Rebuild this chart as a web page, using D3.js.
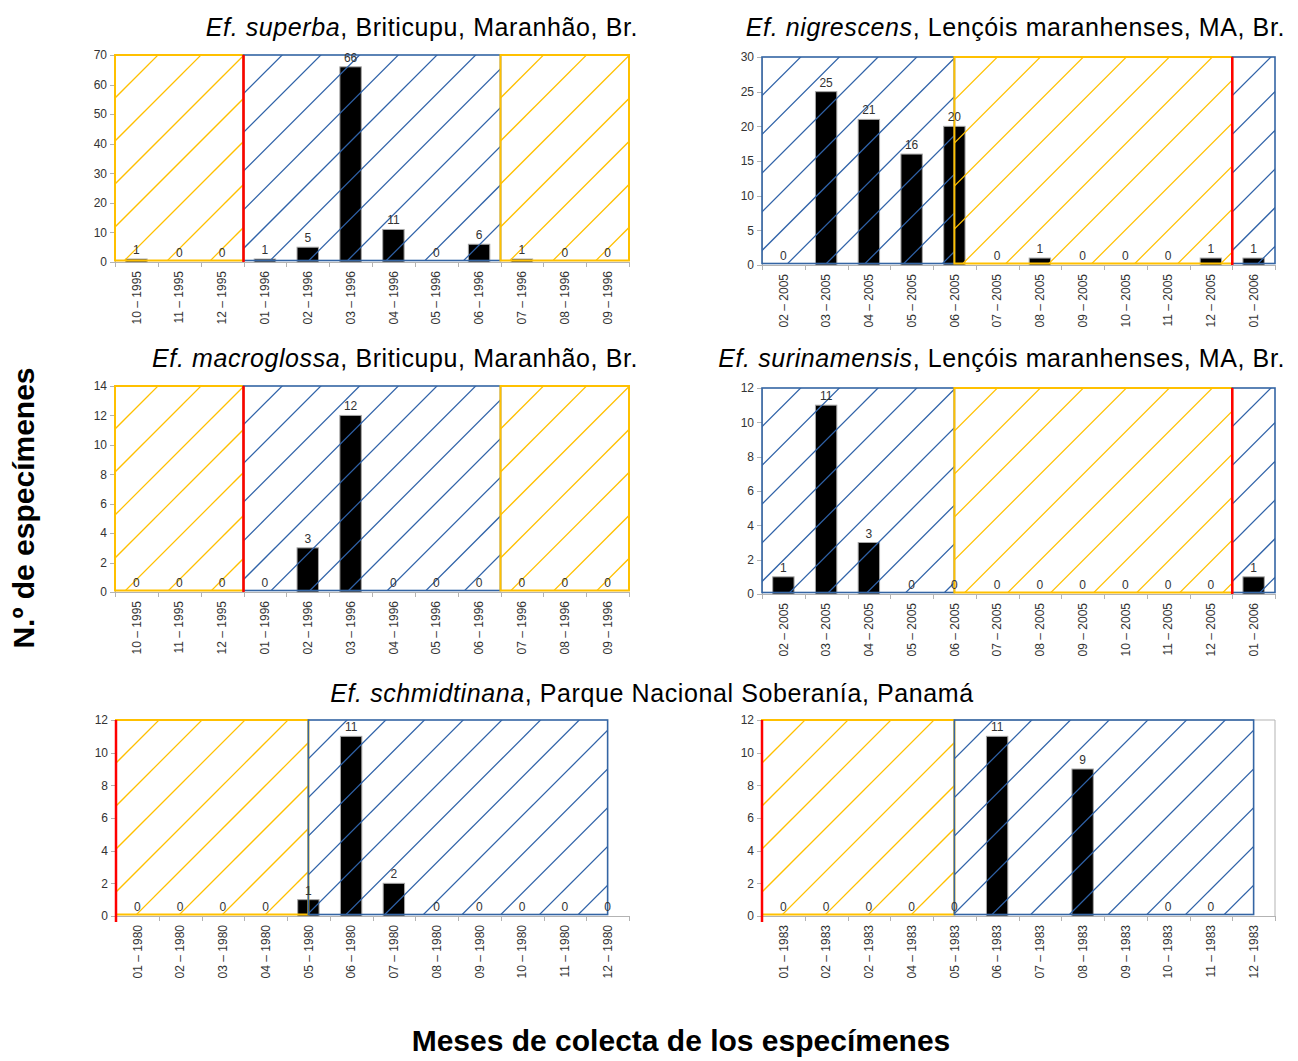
<!DOCTYPE html>
<html>
<head>
<meta charset="utf-8">
<script src="https://cdn.jsdelivr.net/npm/d3@7"></script>
<style>
  body { margin: 0; background: #fff; }
  svg { display: block; font-family: "Liberation Sans", Arial, sans-serif; }
  .axis path, .axis line { stroke: #b3b3b3; shape-rendering: crispEdges; }
  .axis text { fill: #333; font-size: 12px; font-family: "Liberation Sans", Arial, sans-serif; }
  .vlabel { fill: #333; font-size: 12px; text-anchor: middle; }
</style>
</head>
<body>
<svg id="chart" width="1298" height="1061"></svg>
<script>
const WIDTH = 1298,
      HEIGHT = 1061,
      YELLOW = "#ffc000",
      BLUE = "#3465a4",
      RED = "#ff0000",
      HATCH = {dry: {color: "#ffc000", step: 43}, wet: {color: "#2f62a8", step: 38.7}};

// month labels (categories)
const months9596 = ["10 – 1995", "11 – 1995", "12 – 1995", "01 – 1996", "02 – 1996", "03 – 1996",
                    "04 – 1996", "05 – 1996", "06 – 1996", "07 – 1996", "08 – 1996", "09 – 1996"];
const months0506 = ["02 – 2005", "03 – 2005", "04 – 2005", "05 – 2005", "06 – 2005", "07 – 2005",
                    "08 – 2005", "09 – 2005", "10 – 2005", "11 – 2005", "12 – 2005", "01 – 2006"];
const months1980 = ["01 – 1980", "02 – 1980", "03 – 1980", "04 – 1980", "05 – 1980", "06 – 1980",
                    "07 – 1980", "08 – 1980", "09 – 1980", "10 – 1980", "11 – 1980", "12 – 1980"];
const months1983 = ["01 – 1983", "02 – 1983", "02 – 1983", "04 – 1983", "05 – 1983", "06 – 1983",
                    "07 – 1983", "08 – 1983", "09 – 1983", "10 – 1983", "11 – 1983", "12 – 1983"];

// specimens per month
const superba      = [1, 0, 0, 1, 5, 66, 11, 0, 6, 1, 0, 0];
const nigrescens   = [0, 25, 21, 16, 20, 0, 1, 0, 0, 0, 1, 1];
const macroglossa  = [0, 0, 0, 0, 3, 12, 0, 0, 0, 0, 0, 0];
const surinamensis = [1, 11, 3, 0, 0, 0, 0, 0, 0, 0, 0, 1];
const schmidt1980  = [0, 0, 0, 0, 1, 11, 2, 0, 0, 0, 0, 0];
const schmidt1983  = [0, 0, 0, 0, 0, 11, null, 9, null, 0, 0, null];

// seasons, in month units (dry = yellow, wet = blue)
const seasonsMaranhao = [{from: 0, to: 3, kind: "dry"}, {from: 3, to: 9, kind: "wet"}, {from: 9, to: 12, kind: "dry"}];
const seasonsLencois  = [{from: 0, to: 4.5, kind: "wet"}, {from: 4.5, to: 11, kind: "dry"}, {from: 11, to: 12, kind: "wet"}];
const seasonsPanama   = [{from: 0, to: 4.5, kind: "dry"}, {from: 4.5, to: 11.5, kind: "wet"}];

const panels = [
  {cats: months9596, values: superba, yMax: 70, yStep: 10, seasons: seasonsMaranhao, red: 3,
   x0: 115, x1: 629, yTop: 55, yBot: 262},
  {cats: months0506, values: nigrescens, yMax: 30, yStep: 5, seasons: seasonsLencois, red: 11,
   x0: 762, x1: 1275, yTop: 57, yBot: 265},
  {cats: months9596, values: macroglossa, yMax: 14, yStep: 2, seasons: seasonsMaranhao, red: 3,
   x0: 115, x1: 629, yTop: 386, yBot: 592},
  {cats: months0506, values: surinamensis, yMax: 12, yStep: 2, seasons: seasonsLencois, red: 11,
   x0: 762, x1: 1275, yTop: 388, yBot: 594},
  {cats: months1980, values: schmidt1980, yMax: 12, yStep: 2, seasons: seasonsPanama, red: 0,
   x0: 116, x1: 629, yTop: 720, yBot: 916},
  {cats: months1983, values: schmidt1983, yMax: 12, yStep: 2, seasons: seasonsPanama, red: 0,
   x0: 762, x1: 1275, yTop: 720, yBot: 916, frame: true}
];

const titles = [
  {italic: "Ef. superba", rest: ", Briticupu, Maranhão, Br.", x: 638, y: 36, anchor: "end"},
  {italic: "Ef. nigrescens", rest: ", Lençóis maranhenses, MA, Br.", x: 1285, y: 36, anchor: "end"},
  {italic: "Ef. macroglossa", rest: ", Briticupu, Maranhão, Br.", x: 638, y: 367, anchor: "end"},
  {italic: "Ef. surinamensis", rest: ", Lençóis maranhenses, MA, Br.", x: 1285, y: 367, anchor: "end"},
  {italic: "Ef. schmidtinana", rest: ", Parque Nacional Soberanía, Panamá", x: 652, y: 702, anchor: "middle"}
];

const svg = d3.select("#chart");
let defs = svg.append("defs"),
    clipCount = 0;

// "/" hatch lines clipped to a box, anchored on the box corner
function hatch(g, x, y, w, h, kind) {
  let id = "clip" + (clipCount++),
      step = HATCH[kind].step;

  defs.append("clipPath").attr("id", id)
    .append("rect").attr("x", x).attr("y", y).attr("width", w).attr("height", h);

  let cs = d3.range(x + y + step, x + w + y + h, step);

  g.append("g")
    .attr("class", "hatch")
    .attr("clip-path", "url(#" + id + ")")
    .selectAll("line")
    .data(cs)
    .enter().append("line")
    .attr("x1", c => c - (y + h) - 2).attr("y1", y + h + 2)
    .attr("x2", c => c - y + 2).attr("y2", y - 2)
    .attr("stroke", HATCH[kind].color)
    .attr("stroke-width", 1.25);
}

panels.forEach(p => {
  let n = p.cats.length,
      g = svg.append("g");

  let band = d3.scaleBand().domain(d3.range(n)).range([p.x0, p.x1]).paddingInner(0.5).paddingOuter(0.25),
      xu = d3.scaleLinear().domain([0, n]).range([p.x0, p.x1]),
      y = d3.scaleLinear().domain([0, p.yMax]).range([p.yBot, p.yTop]);

  if (p.frame) {
    g.append("path")
      .attr("d", "M" + p.x0 + "," + p.yTop + "H" + p.x1 + "V" + p.yBot)
      .attr("fill", "none")
      .attr("stroke", "#b3b3b3");
  }

  // y axis
  g.append("g")
    .attr("class", "axis")
    .attr("transform", "translate(" + p.x0 + ",0)")
    .call(d3.axisLeft(y).tickValues(d3.range(0, p.yMax + 1, p.yStep)).tickSize(5).tickSizeOuter(0).tickPadding(3));

  // x axis: ticks on month boundaries, labels rotated at month centres
  let xa = g.append("g")
    .attr("class", "axis")
    .attr("transform", "translate(0," + p.yBot + ")")
    .call(d3.axisBottom(xu).tickValues(d3.range(0, n + 1)).tickFormat("").tickSize(5).tickSizeOuter(0));

  xa.selectAll("text.mlabel")
    .data(p.cats)
    .enter().append("text")
    .attr("class", "mlabel")
    .attr("transform", (d, i) => "translate(" + (band(i) + band.bandwidth() / 2) + ",9) rotate(-90)")
    .attr("dy", "0.35em")
    .attr("text-anchor", "end")
    .text(d => d);

  let data = p.values.map((v, i) => ({i: i, v: v})).filter(d => d.v !== null);

  // bars
  g.selectAll("rect.bar")
    .data(data.filter(d => d.v > 0))
    .enter().append("rect")
    .attr("class", "bar")
    .attr("x", d => band(d.i))
    .attr("width", band.bandwidth())
    .attr("y", d => y(d.v))
    .attr("height", d => y(0) - y(d.v))
    .attr("fill", "#000")
    .attr("stroke", "#a6a6a6")
    .attr("stroke-width", 1);

  // season boxes drawn over the bars
  p.seasons.forEach(s => {
    let bx = xu(s.from),
        by = y(p.yMax),
        bw = xu(s.to) - xu(s.from),
        bh = y(0) - y(p.yMax) - 1.5;

    hatch(g, bx, by, bw, bh, s.kind);

    g.append("rect")
      .attr("x", bx).attr("y", by)
      .attr("width", bw).attr("height", bh)
      .attr("fill", "none")
      .attr("stroke", s.kind == "dry" ? YELLOW : BLUE)
      .attr("stroke-width", s.kind == "dry" ? 2 : 1.6);
  });

  // start of the year
  g.append("line")
    .attr("x1", xu(p.red)).attr("x2", xu(p.red))
    .attr("y1", y(p.yMax)).attr("y2", y(0) + (p.red == 0 ? 6 : 0))
    .attr("stroke", RED)
    .attr("stroke-width", 2.5);

  // value labels
  g.selectAll("text.vlabel")
    .data(data)
    .enter().append("text")
    .attr("class", "vlabel")
    .attr("x", d => band(d.i) + band.bandwidth() / 2)
    .attr("y", d => y(d.v) - 5)
    .text(d => d.v);
});

// panel titles
titles.forEach(t => {
  let txt = svg.append("text")
    .attr("x", t.x)
    .attr("y", t.y)
    .attr("text-anchor", t.anchor)
    .attr("font-size", 25)
    .attr("letter-spacing", 0.6)
    .attr("fill", "#000");
  txt.append("tspan").attr("font-style", "italic").text(t.italic);
  txt.append("tspan").text(t.rest);
});

// axis titles
svg.append("text")
  .attr("transform", "translate(34,508) rotate(-90)")
  .attr("text-anchor", "middle")
  .attr("font-size", 30)
  .attr("font-weight", "bold")
  .text("N.º de especímenes");

svg.append("text")
  .attr("x", 681)
  .attr("y", 1051)
  .attr("text-anchor", "middle")
  .attr("font-size", 30)
  .attr("font-weight", "bold")
  .text("Meses de colecta de los especímenes");
</script>
</body>
</html>
